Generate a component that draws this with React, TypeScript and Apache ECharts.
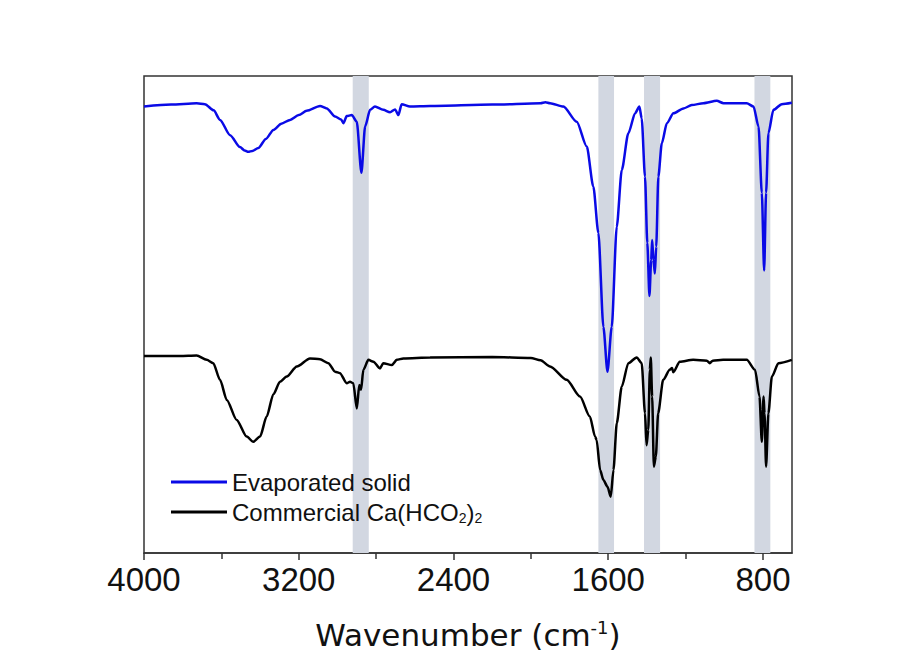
import React, { useEffect, useRef } from "react";
import * as echarts from "echarts";

// Wavenumber (cm-1) and relative transmittance (a.u.)
const evapWn = [4000, 3860, 3728, 3685, 3640, 3607, 3555, 3504, 3480, 3461, 3440, 3409, 3370, 3331, 3290, 3245, 3200, 3159, 3090, 3055, 3012, 2981, 2969, 2952, 2926, 2900, 2876, 2857, 2831, 2806, 2763, 2728, 2702, 2685, 2668, 2625, 2521, 2200, 1950, 1925, 1901, 1832, 1763, 1711, 1677, 1651, 1625, 1604, 1582, 1556, 1530, 1496, 1461, 1439, 1427, 1410, 1398, 1387, 1378, 1373, 1366, 1359, 1352, 1341, 1323, 1297, 1263, 1211, 1168, 1108, 1039, 1004, 884, 849, 823, 806, 794, 784, 772, 746, 703, 651];
const evapT = [93.6, 94.0, 94.3, 94.1, 92.8, 90.8, 87.6, 85.1, 84.4, 84.1, 84.3, 84.9, 86.8, 88.7, 90.0, 90.8, 91.8, 92.7, 93.7, 93.2, 91.5, 90.9, 90.1, 91.6, 91.8, 90.4, 79.7, 89.4, 92.9, 93.6, 92.9, 92.4, 93.0, 91.8, 94.1, 93.6, 93.7, 94.0, 94.3, 94.5, 94.3, 93.6, 90.4, 85.2, 76.8, 67.1, 47.4, 38.0, 47.4, 68.4, 80.3, 88.0, 92.2, 93.6, 91.1, 78.9, 65.0, 53.9, 61.4, 65.6, 61.4, 58.6, 64.2, 78.9, 85.9, 90.1, 92.2, 93.2, 93.9, 94.3, 94.8, 94.3, 94.3, 93.6, 89.4, 75.5, 59.2, 75.5, 88.0, 92.9, 94.1, 94.4];

const commWn = [4000, 3814, 3728, 3676, 3642, 3607, 3572, 3521, 3469, 3435, 3400, 3366, 3331, 3297, 3262, 3210, 3142, 3090, 3047, 3012, 2987, 2952, 2935, 2918, 2900, 2887, 2878, 2866, 2840, 2814, 2780, 2763, 2719, 2693, 2659, 2521, 2200, 2000, 1950, 1901, 1815, 1746, 1695, 1668, 1660, 1642, 1625, 1604, 1587, 1573, 1556, 1530, 1496, 1453, 1427, 1410, 1402, 1393, 1385, 1380, 1373, 1364, 1354, 1342, 1316, 1282, 1270, 1264, 1230, 1161, 1090, 1075, 1060, 1006, 884, 841, 818, 806, 797, 792, 784, 772, 754, 720, 651];
const commT = [41.3, 41.3, 41.4, 40.5, 39.8, 36.3, 32.1, 27.9, 24.4, 23.3, 24.4, 28.6, 33.3, 35.9, 37.0, 39.1, 40.8, 40.6, 39.8, 38.0, 37.7, 35.6, 35.9, 35.6, 30.3, 35.2, 34.2, 38.4, 40.5, 40.1, 38.7, 39.8, 39.4, 40.5, 40.8, 41.0, 41.1, 40.9, 40.4, 39.1, 36.3, 32.8, 28.6, 24.4, 23.7, 17.4, 15.3, 13.9, 11.8, 17.4, 27.2, 34.9, 39.8, 41.0, 39.8, 29.3, 22.6, 25.8, 38.4, 41.0, 32.8, 18.1, 20.2, 29.3, 36.3, 38.4, 38.8, 37.9, 40.1, 40.5, 40.3, 39.8, 40.3, 40.5, 40.5, 38.4, 32.8, 23.3, 32.8, 29.3, 18.1, 29.3, 37.0, 39.8, 40.5];

// Highlighted bands [from, to] in cm-1
const bandStarts = [2921, 1651, 1415, 844];
const bandEnds = [2838, 1570, 1332, 762];

const majorTicks = [4000, 3200, 2400, 1600, 800];
const minorTicks = [3600, 2800, 2000, 1200];

const seriesNames = ["Evaporated solid", "Commercial Ca(HCO2)2"];

const X_MIN = 650;
const X_MAX = 4000;
const FONT = "Liberation Sans, Arial, sans-serif";
const TITLE_FONT = "DejaVu Sans, sans-serif";

export default function App() {
  const ref = useRef<HTMLDivElement>(null);
  useEffect(() => {
    if (!ref.current) return;
    const chart = echarts.init(ref.current, undefined, { renderer: "svg" });
    const pair = (xs: number[], ys: number[]) => xs.map((x, i) => [x, ys[i]]);
    const bands = bandStarts.map((s, i) => [{ xAxis: s }, { xAxis: bandEnds[i] }]);
    chart.setOption({
      animation: false,
      backgroundColor: "#ffffff",
      grid: {
        left: 144,
        top: 76,
        width: 648,
        height: 477,
        show: true,
        borderColor: "#333333",
        borderWidth: 1.5,
        backgroundColor: "transparent",
      },
      legend: {
        orient: "vertical",
        left: 171,
        top: 469,
        padding: 0,
        itemWidth: 56,
        itemHeight: 3,
        itemGap: 4,
        icon: "rect",
        data: seriesNames,
        formatter: (name: string) =>
          name === seriesNames[1] ? "Commercial Ca(HCO{sub|2}){sub|2}" : name,
        textStyle: {
          fontFamily: FONT,
          fontSize: 24,
          color: "#111111",
          lineHeight: 26,
          rich: {
            sub: { fontFamily: FONT, fontSize: 14, color: "#111111", padding: [12, 0, 0, 0] },
          },
        },
      },
      xAxis: [
        {
          type: "value",
          inverse: true,
          min: X_MIN,
          max: X_MAX,
          position: "bottom",
          splitLine: { show: false },
          axisLine: { show: true, onZero: false, lineStyle: { color: "#333333", width: 1.5 } },
          axisTick: { show: true, length: 7, customValues: majorTicks, lineStyle: { color: "#333333", width: 1.5 } },
          axisLabel: {
            customValues: majorTicks,
            formatter: (v: number) => String(v),
            margin: 10,
            fontFamily: FONT,
            fontSize: 33,
            color: "#111111",
          },
          name: "Wavenumber (cm{sup|-1})",
          nameLocation: "middle",
          nameGap: 65,
          nameTextStyle: {
            fontFamily: TITLE_FONT,
            fontSize: 31,
            color: "#111111",
            rich: {
              sup: { fontFamily: TITLE_FONT, fontSize: 18, color: "#111111", padding: [0, 0, 16, 0] },
            },
          },
        },
        {
          type: "value",
          inverse: true,
          min: X_MIN,
          max: X_MAX,
          position: "bottom",
          splitLine: { show: false },
          axisLine: { show: false },
          axisLabel: { show: false },
          axisTick: { show: true, length: 6, customValues: minorTicks, lineStyle: { color: "#333333", width: 1.5 } },
        },
      ],
      yAxis: {
        type: "value",
        min: 0,
        max: 100,
        show: false,
      },
      series: [
        {
          name: seriesNames[0],
          type: "line",
          xAxisIndex: 0,
          data: pair(evapWn, evapT),
          symbol: "none",
          smooth: 0.25,
          smoothMonotone: "x",
          lineStyle: { color: "#0a0ae6", width: 2.5 },
          itemStyle: { color: "#0a0ae6" },
          z: 3,
          markArea: {
            silent: true,
            itemStyle: { color: "#d2d7e1" },
            data: bands,
            z: 1,
          },
        },
        {
          name: seriesNames[1],
          type: "line",
          xAxisIndex: 0,
          data: pair(commWn, commT),
          symbol: "none",
          smooth: 0.25,
          smoothMonotone: "x",
          lineStyle: { color: "#000000", width: 2.5 },
          itemStyle: { color: "#000000" },
          z: 3,
        },
      ],
    });
    return () => chart.dispose();
  }, []);
  return <div ref={ref} style={{ width: 907, height: 659, position: "absolute", left: 0, top: 0 }} />;
}
